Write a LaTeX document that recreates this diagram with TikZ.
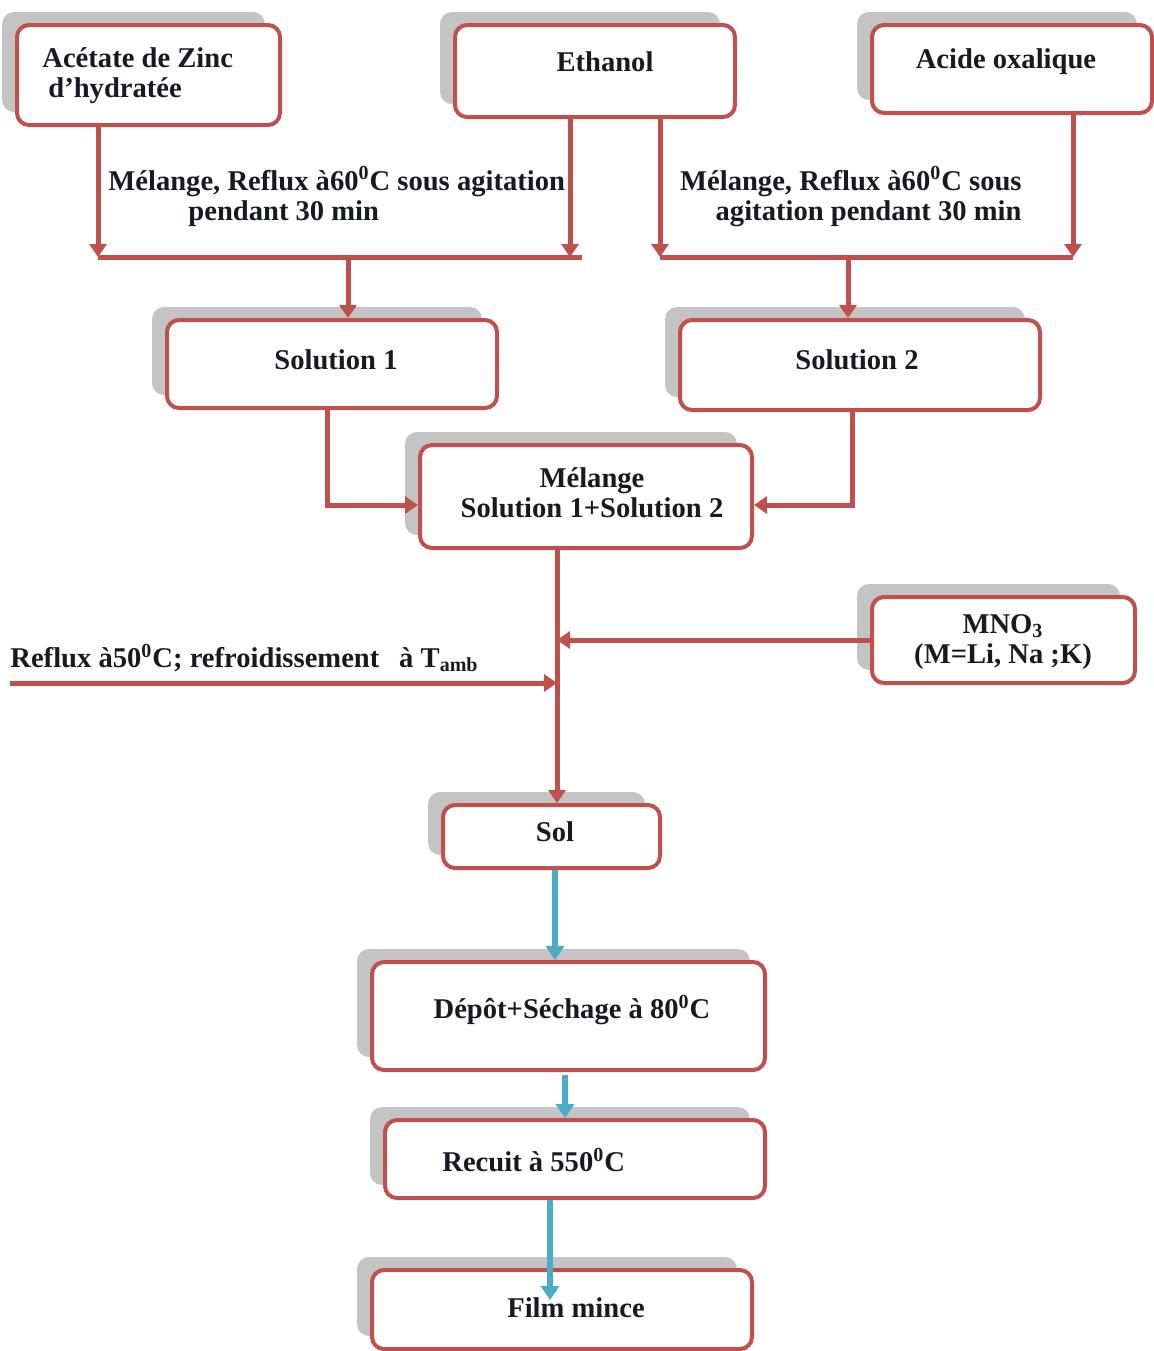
\documentclass[tikz,border=0pt]{standalone}
\usepackage{fontspec}
\setmainfont{Liberation Serif}
\usetikzlibrary{arrows.meta,shadows}

\definecolor{flowred}{RGB}{192,80,77}
\definecolor{flowblue}{RGB}{75,172,198}
\definecolor{shadowgray}{RGB}{196,196,196}
\definecolor{inkdark}{RGB}{25,25,35}

\tikzset{
  txtfont/.style={font=\bfseries\fontsize{14.3}{15}\selectfont, text=inkdark},
  stepbox/.style={draw=flowred, line width=2pt, fill=white, rounded corners=6pt,
    inner sep=0pt, align=center, txtfont,
    general shadow={fill=shadowgray, shadow xshift=-7.5pt, shadow yshift=6.5pt}},
  txt/.style={txtfont, inner sep=0pt},
  redline/.style={draw=flowred, line width=2.5pt},
  redarrow/.style={redline, -{Triangle[width=8.5pt,length=6.5pt]}},
  bluearrow/.style={draw=flowblue, line width=3pt, -{Triangle[width=9pt,length=7pt]}},
}

\begin{document}
\begin{tikzpicture}[x=0.5pt, y=-0.5pt]
\useasboundingbox (0,0) rectangle (1154,1351);

% ---------- boxes ----------
\node[stepbox, minimum width=131.5pt, minimum height=50pt]   (acet) at (148.5,75) {};
\node[stepbox, minimum width=140pt,   minimum height=46pt]   (eth)  at (595,71) {};
\node[stepbox, minimum width=140pt,   minimum height=44pt]   (acid) at (1012,69) {};
\node[stepbox, minimum width=165pt,   minimum height=44pt]   (sol1) at (332,364) {};
\node[stepbox, minimum width=180pt,   minimum height=45pt]   (sol2) at (860,365) {};
\node[stepbox, minimum width=166pt,   minimum height=51.5pt] (mel)  at (586,496.5) {};
\node[stepbox, minimum width=131.5pt, minimum height=43pt]   (mno)  at (1003.5,640) {};
\node[stepbox, minimum width=108.5pt, minimum height=31.5pt] (sol)  at (551.5,836.5) {};
\node[stepbox, minimum width=196.5pt, minimum height=54pt]   (dep)  at (568.5,1016) {};
\node[stepbox, minimum width=190pt,   minimum height=39pt]   (rec)  at (575,1159) {};
\node[stepbox, minimum width=190pt,   minimum height=39.5pt] (film) at (562,1309.5) {};

% ---------- box texts ----------
\node[txt, anchor=west, align=left] (acet-t) at (42,76) {Acétate de Zinc\\\hspace*{3pt}d’hydratée};
\node[txt] (eth-t)  at (605,62)   {Ethanol};
\node[txt] (acid-t) at (1006,62)  {Acide oxalique};
\node[txt] (sol1-t) at (336,360)  {Solution 1};
\node[txt] (sol2-t) at (857,360)  {Solution 2};
\node[txt, align=center] (mel-t) at (592,493) {Mélange\\Solution 1+Solution 2};
\node[txt, align=center] (mno-t) at (1003,642) {MNO\textsubscript{3}\\(M=Li, Na ;K)};
\node[txt] (sol-t)  at (555,832)  {Sol};
\node[txt] (dep-t)  at (572,1010) {Dépôt+Séchage à 80\textsuperscript{0}C};
\node[txt, anchor=west] (rec-t) at (442,1160) {Recuit à 550\textsuperscript{0}C};
\node[txt] (film-t) at (576,1308) {Film mince};

% ---------- process labels ----------
\node[txt, anchor=west, align=left] (lab1) at (108,196.5)
  {Mélange, Reflux à60\textsuperscript{0}C sous agitation\\\hspace*{40pt}pendant 30 min};
\node[txt, anchor=east, align=right] (lab2) at (1022,196.5)
  {Mélange, Reflux à60\textsuperscript{0}C sous\\agitation pendant 30 min};
\node[txt, anchor=west] (lab3) at (10,658)
  {Reflux à50\textsuperscript{0}C; refroidissement\;\, à T\textsubscript{amb}};

% ---------- junction points ----------
\coordinate (m1a) at (98,257);
\coordinate (m1b) at (570,257);
\coordinate (m1e) at (582,257);
\coordinate (m1c) at (348,257);
\coordinate (m2a) at (660,257);
\coordinate (m2b) at (1073,257);
\coordinate (m2c) at (848,257);
\coordinate (k1) at (327,505);
\coordinate (k2) at (852,505);
\coordinate (spine) at (557,640);
\coordinate (rin) at (10,683);
\coordinate (b1) at (555,0);
\coordinate (b2) at (565,1075);
\coordinate (b3) at (550,1300);

% ---------- first mixing stages ----------
\draw[redline] (m1a) -- (m1e);
\draw[redline] (m2a) -- (m2b);
\draw[redarrow] (acet.south -| m1a) -- (m1a);
\draw[redarrow] (eth.south -| m1b) -- (m1b);
\draw[redarrow] (eth.south -| m2a) -- (m2a);
\draw[redarrow] (acid.south -| m2b) -- (m2b);
\draw[redarrow] (m1c) -- (sol1.north -| m1c);
\draw[redarrow] (m2c) -- (sol2.north -| m2c);

% ---------- solutions into the mixture ----------
\draw[redarrow] (sol1.south -| k1) |- (mel.west |- k1);
\draw[redarrow] (sol2.south -| k2) |- (mel.east |- k2);

% ---------- sol preparation ----------
\draw[redarrow] (mel.south -| spine) -- (sol.north -| spine);
\draw[redarrow] (mno.west |- spine) -- (spine);
\draw[redarrow] (rin) -- (rin -| spine);

% ---------- film deposition ----------
\draw[bluearrow] (sol.south -| b1) -- (dep.north -| b1);
\draw[bluearrow] (b2) -- (rec.north -| b2);
\draw[bluearrow] (rec.south -| b3) -- (b3);
\end{tikzpicture}
\end{document}
